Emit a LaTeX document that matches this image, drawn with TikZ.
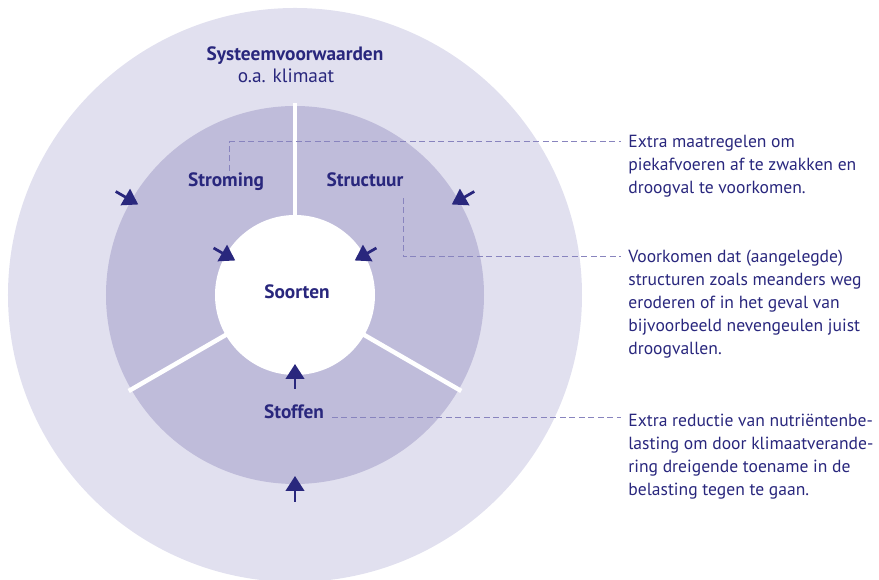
\documentclass[tikz,border=0pt]{standalone}
\usepackage{fontspec}
\setmainfont{PT Sans}
\usetikzlibrary{arrows.meta}
\definecolor{ringout}{HTML}{E1E0EF}
\definecolor{ringmid}{HTML}{BFBCDA}
\definecolor{ink}{HTML}{29277D}
\definecolor{leadcol}{HTML}{8884BE}

\begin{document}
\begin{tikzpicture}[x=0.02cm,y=0.02cm,part/.style={font=\fontsize{11}{13}\selectfont\bfseries,text=ink,inner sep=0pt,anchor=base},sub/.style={font=\fontsize{11}{13}\selectfont,text=ink,inner sep=0pt,anchor=base},note/.style={font=\fontsize{10}{13}\selectfont,text=ink,align=left,anchor=base west,inner sep=0pt},inflow/.style={draw=ink,line width=0.055cm,-{Triangle[length=0.3cm,width=0.37cm]}},divider/.style={draw=white,line width=0.09cm},leader/.style={draw=leadcol,line width=0.02cm,dash pattern=on 0.12cm off 0.07cm}]
\clip (-295,-285) rectangle (584,295);
\fill[ringout] (0,0) circle (287);
\fill[ringmid] (0,0) circle (189);
\draw[divider] (90:78) -- (90:192);
\draw[divider] (210:78) -- (210:192);
\draw[divider] (330:78) -- (330:192);
\fill[white] (0,0) circle (80);
\coordinate (A1) at (150:207);
\coordinate (A2) at (150:181);
\coordinate (B1) at (30:207);
\coordinate (B2) at (30:181);
\coordinate (C1) at (270:207);
\coordinate (C2) at (270:181);
\coordinate (D1) at (150:94);
\coordinate (D2) at (150:69);
\coordinate (E1) at (30:94);
\coordinate (E2) at (30:69);
\coordinate (F1) at (270:94);
\coordinate (F2) at (270:69);
\draw[inflow] (A1) -- (A2);
\draw[inflow] (B1) -- (B2);
\draw[inflow] (C1) -- (C2);
\draw[inflow] (D1) -- (D2);
\draw[inflow] (E1) -- (E2);
\draw[inflow] (F1) -- (F2);
\node[part] (systeem) at (0,234) {Systeemvoorwaarden};
\node[sub] (klimaat) at (-9,212) {o.a. klimaat};
\node[part] (stroming) at (-69,108) {Stroming};
\node[part] (structuur) at (70,108) {Structuur};
\node[part] (soorten) at (2,-4) {Soorten};
\node[part] (stoffen) at (-1,-124) {Stoffen};
\coordinate (S1) at (-65,124);
\coordinate (T1) at (326,153);
\coordinate (S2) at (108,97);
\coordinate (T2) at (326,38);
\coordinate (S3) at (37,-123);
\coordinate (T3) at (326,-123);
\draw[leader] (S1) |- (T1);
\draw[leader] (S2) |- (T2);
\draw[leader] (S3) -- (T3);
\node[note] (note1) at (333,101.6) {Extra maatregelen om\\piekafvoeren af te zwakken en\\droogval te voorkomen.};
\node[note] (note2) at (333,-59.2) {Voorkomen dat (aangelegde)\\structuren zoals meanders weg\\eroderen of in het geval van\\bijvoorbeeld nevengeulen juist\\droogvallen.};
\node[note] (note3) at (333,-200.5) {Extra reductie van nutriëntenbe-\\lasting om door klimaatverande-\\ring dreigende toename in de\\belasting tegen te gaan.};
\end{tikzpicture}
\end{document}
